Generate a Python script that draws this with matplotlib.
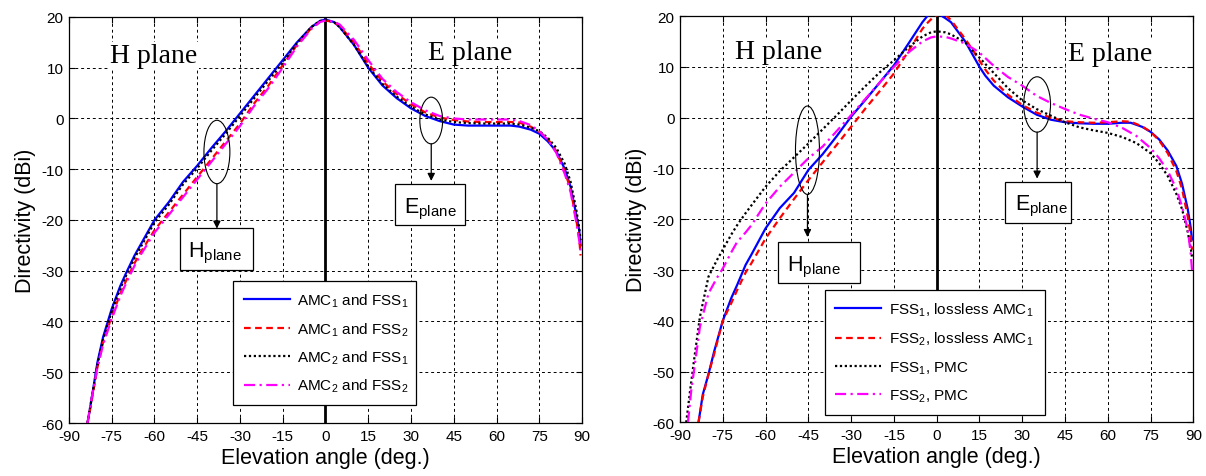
import matplotlib
matplotlib.use("Agg")
import matplotlib.pyplot as plt
from matplotlib.patches import Ellipse, Rectangle

plt.rcParams['font.family'] = ['Liberation Sans', 'DejaVu Sans']
plt.rcParams['mathtext.default'] = 'regular'
plt.rcParams['axes.unicode_minus'] = False

# ---- data (angle in deg, directivity in dBi) ----
# left panel: all four curves share the same angle samples
ang_left = [-83.5, -82, -80, -78, -75, -72, -70, -67, -65, -60, -55, -50, -45, -40, -35, -30,
            -25, -20, -15, -10, -5, -2, 0, 3, 5, 10, 15, 20, 25, 30, 35, 40, 45, 50, 55, 60,
            65, 68, 72, 75, 78, 81, 84, 86, 88, 89, 89.5]
amc1_fss1 = [-60, -55, -48, -43, -37.5, -33, -30.5, -27, -25, -20, -16.5, -12.5, -9.3, -5.8, -2.5, 1,
             4.5, 8, 11.5, 15, 18, 19.2, 19.5, 19, 18, 14.5, 10, 6.5, 4, 2, 0.5, -0.5, -1.2, -1.4, -1.4, -1.4,
             -1.4, -1.6, -2.2, -3, -4.5, -6.5, -10, -13.5, -19, -22, -25]
amc1_fss2 = [-60, -55.5, -49, -44, -39, -34.5, -32, -28.5, -26.5, -22, -18.5, -15, -11.5, -8, -4.5, -1,
             3, 6.5, 10.5, 14.5, 17.8, 19, 19.3, 19, 18.2, 15, 10.8, 7.3, 4.8, 2.8, 1.2, 0.2, -0.3, -0.6, -0.7, -0.7,
             -0.7, -0.8, -1.6, -2.6, -4, -6.5, -10.5, -14, -20, -23.5, -27]
amc2_fss1 = [-60, -55, -48.5, -43.5, -38, -33.5, -31, -27.5, -25.5, -20.5, -17, -13, -9.8, -6.3, -3, 0.5,
             4, 7.5, 11, 14.8, 18, 19.2, 19.4, 19, 18, 14.5, 10.2, 6.8, 4.3, 2.3, 0.8, -0.2, -0.7, -0.9, -1, -1,
             -1, -1.2, -1.8, -2.5, -3.8, -5.8, -9, -12.5, -18, -21.5, -24]
amc2_fss2 = [-60, -55, -49, -44.5, -39.5, -35, -32.5, -29, -27, -22.5, -19, -15.5, -12, -8.5, -5, -1.5,
             2.5, 6, 10, 14.2, 17.6, 19, 19.3, 19.1, 18.5, 15.5, 11.5, 7.8, 5.2, 3.2, 1.6, 0.5, 0, -0.2, -0.2, -0.2,
             -0.2, -0.5, -1.3, -2.5, -4.2, -6.8, -11, -14.5, -20.5, -24, -26]

# right panel
ang_amc = [-83.5, -82, -80, -78, -75, -72, -70, -67, -65, -60, -55, -50, -45, -40, -35, -30, -25, -20,
           -15, -10, -5, -3, -1, 1, 3, 5, 10, 13, 15, 17, 20, 25, 30, 35, 40, 45, 50, 55, 60, 65, 68,
           72, 75, 78, 81, 84, 86, 88, 89, 89.5]
fss1_amc1 = [-60, -54.5, -50.5, -46, -40, -35.5, -33, -29, -27, -21.8, -17.8, -14.8, -10.3, -7.2, -3.6, 0.2,
             3.5, 6.9, 10.3, 14.5, 18.8, 20.2, 20.6, 20.3, 19.6, 18.8, 15, 12, 10, 8.3, 6.3, 4, 2.2, 0.6, -0.4,
             -0.9, -1.1, -1.2, -1.2, -1, -1, -1.8, -2.8, -4.3, -6.5, -9.5, -13, -18, -21.5, -24]
fss2_amc1 = [-60, -55, -50.5, -46.5, -40, -36.5, -34, -30.5, -28.7, -23.8, -19.8, -16, -12.3, -8.8, -5.3, -1.8,
             1.8, 5.2, 8.7, 13, 17.5, 18.8, 19.9, 20.4, 20.3, 19.2, 15.5, 13, 11.2, 9.5, 7.3, 4.5, 2.5, 1, 0,
             -0.7, -0.9, -1, -0.9, -0.7, -0.8, -1.7, -2.8, -4.5, -7, -10.5, -14, -19.5, -23, -26]
ang_pmc1 = [-87.8, -86.5, -85, -83, -80, -77, -75, -72, -70, -67, -65, -60, -55, -50, -45, -40, -35, -30,
            -25, -20, -15, -10, -5, -2, 0, 3, 5, 10, 15, 20, 25, 30, 35, 40, 45, 50, 55, 60, 65, 70, 75,
            78, 81, 84, 86, 88, 89, 89.5]
fss1_pmc = [-60, -54, -47.5, -39.2, -31.3, -28, -26, -23, -21.2, -18.8, -17.3, -13.6, -10.5, -7.8, -5.1, -2.3,
            0.5, 3.4, 6.2, 8.9, 11.3, 13.8, 16, 16.8, 17, 16.8, 16.4, 14.8, 11.8, 8.8, 5.8, 3.4, 1.7, 0.4, -0.9,
            -1.9, -2.5, -3, -3.8, -5, -7, -9, -11.5, -15, -18, -22.5, -25.5, -27.5]
ang_pmc2 = [-87.2, -86, -85, -83, -80, -77, -75, -72, -70, -67, -65, -60, -55, -50, -45, -40, -35, -30,
            -25, -20, -15, -10, -5, -2, 0, 3, 5, 10, 15, 20, 25, 30, 35, 40, 45, 50, 55, 60, 65, 70, 75,
            78, 81, 84, 86, 88, 89, 89.5]
fss2_pmc = [-60, -53.5, -49.5, -41.2, -34.6, -31.5, -29.7, -26.5, -24.5, -22.6, -21.2, -16.9, -13.6, -10.8, -8,
            -5.7, -2.6, 0.5, 3.7, 6.9, 10, 12.8, 15, 15.8, 16, 15.9, 15.6, 14.6, 12.8, 10.2, 8, 6.3, 4.3, 2.9,
            1.7, 0.6, -0.2, -0.9, -2, -3.6, -6, -8, -10.5, -14, -17.5, -22, -26.5, -30]

left_labels = ['AMC$_1$ and FSS$_1$', 'AMC$_1$ and FSS$_2$', 'AMC$_2$ and FSS$_1$', 'AMC$_2$ and FSS$_2$']
right_labels = ['FSS$_1$, lossless AMC$_1$', 'FSS$_2$, lossless AMC$_1$', 'FSS$_1$, PMC', 'FSS$_2$, PMC']

xticks = [-90, -75, -60, -45, -30, -15, 0, 15, 30, 45, 60, 75, 90]
yticks = [-60, -50, -40, -30, -20, -10, 0, 10, 20]

# line styles: blue solid, red dashed, black dotted, magenta dash-dot
colors = ['#0000ff', '#ff0000', '#000000', '#ff00ff']
styles = ['-', (0, (3, 2)), (0, (1, 1.2)), (0, (5, 2, 1, 2))]

# annotation layout per panel (data units)
left_notes = {
    'titles': [(-75.6, 11.1, 'H plane'), (36, 11.7, 'E plane')],
    'ellipses': [(-38.1, -6.6, 9.1, 12.5), (37.1, -0.4, 8, 9.2)],
    'arrows': [(-38.1, -12.85, -21.7), (37.1, -5, -12.3)],
    'boxes': [(-51, -29.9, 25.6, 8.3, -48.4, -27.2, 'H'), (24.4, -20.9, 24.4, 7.9, 27.4, -18.6, 'E')],
    'legend': (0.32, 0.044, 0.356, 0.302),
    'vline_bottom': 0.0,
}
right_notes = {
    'titles': [(-70.8, 11.7, 'H plane'), (45.9, 11.3, 'E plane')],
    'ellipses': [(-45.3, -6.4, 8.4, 17.4), (35.2, 2.6, 9.4, 10.9)],
    'arrows': [(-45.3, -15.1, -23.5), (35.2, -2.85, -12)],
    'boxes': [(-55.5, -32.5, 28.7, 8.1, -52.5, -30.0, 'H'), (24, -20.7, 23.1, 8.1, 27.5, -18.0, 'E')],
    'legend': (0.282, 0.019, 0.428, 0.301),
    'vline_bottom': 0.2,
}

fig = plt.figure(figsize=(12.06, 4.77), dpi=100)
ax1 = fig.add_axes([0.0572, 0.1111, 0.4254, 0.8512])
ax2 = fig.add_axes([0.5638, 0.1122, 0.4258, 0.8520])


def setup_axes(ax, notes, curves, labels, spacing):
    lines = []
    for (xs, ys), c, ls, lab in zip(curves, colors, styles, labels):
        ln, = ax.plot(xs, ys, color=c, linestyle=ls, lw=1.6, label=lab, zorder=3)
        lines.append(ln)

    ax.axvline(0, ymin=notes['vline_bottom'], ymax=1, color='black', lw=2, zorder=2.5)

    ax.set_xlim(-90, 90)
    ax.set_ylim(-60, 20)
    ax.set_xticks(xticks, [str(t) for t in xticks])
    ax.set_yticks(yticks, [str(t) for t in yticks])
    ax.tick_params(direction='in', length=4, width=0.8, labelsize=11, pad=4,
                   top=True, right=True)
    ax.grid(True, color='black', linestyle=(0, (3, 3)), lw=0.7)
    for sp in ax.spines.values():
        sp.set_linewidth(0.9)
    ax.set_xlabel('Elevation angle (deg.)', fontsize=15.5, labelpad=3)
    ax.set_ylabel('Directivity (dBi)', fontsize=15.5, labelpad=4)

    for x, y, txt in notes['titles']:
        ax.text(x, y, txt, family=['Liberation Serif', 'DejaVu Serif'], fontsize=20,
                ha='left', va='baseline', zorder=4,
                bbox=dict(facecolor='white', edgecolor='none', pad=1))
    for cx, cy, w, h in notes['ellipses']:
        ax.add_patch(Ellipse((cx, cy), w, h, fill=False, ec='black', lw=0.8, zorder=4))
    for x, y0, y1 in notes['arrows']:
        ax.annotate('', xy=(x, y1), xytext=(x, y0),
                    arrowprops=dict(arrowstyle='-|>', color='black', lw=0.9,
                                    mutation_scale=11, shrinkA=0, shrinkB=0), zorder=4)
    for bx, by, bw, bh, tx, ty, letter in notes['boxes']:
        ax.add_patch(Rectangle((bx, by), bw, bh, fc='white', ec='black', lw=0.9, zorder=4))
        ax.text(tx, ty, letter + '$_{plane}$', fontsize=15.5, ha='left', va='baseline', zorder=5)

    leg = ax.legend(handles=lines, loc='lower left', bbox_to_anchor=notes['legend'],
                    mode='expand', borderaxespad=0, fancybox=False, framealpha=1,
                    edgecolor='black', fontsize=11, handlelength=3.0, handletextpad=0.5,
                    borderpad=0.7, labelspacing=spacing)
    leg.get_frame().set_linewidth(0.9)
    leg.set_zorder(6)


setup_axes(ax1, left_notes,
           [(ang_left, amc1_fss1), (ang_left, amc1_fss2), (ang_left, amc2_fss1), (ang_left, amc2_fss2)],
           left_labels, 0.72)
setup_axes(ax2, right_notes,
           [(ang_amc, fss1_amc1), (ang_amc, fss2_amc1), (ang_pmc1, fss1_pmc), (ang_pmc2, fss2_pmc)],
           right_labels, 0.78)

fig.savefig('out.png', dpi=100, facecolor='white')
